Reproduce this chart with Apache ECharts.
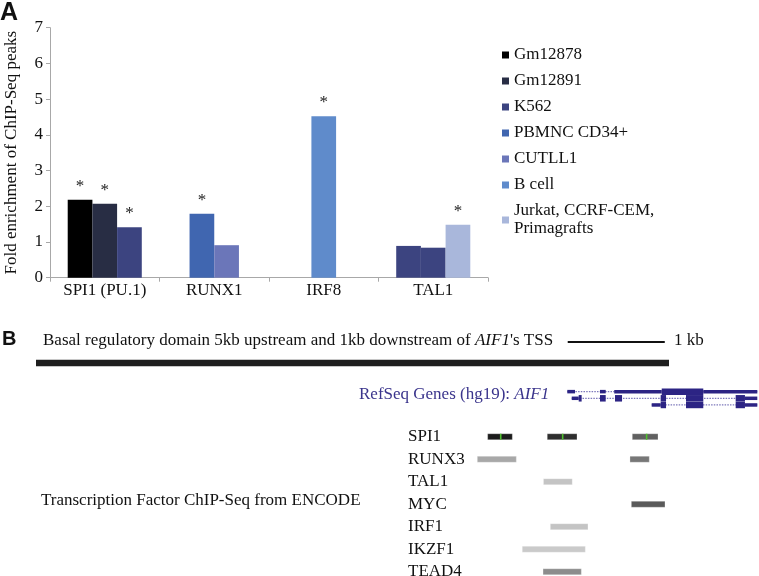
<!DOCTYPE html>
<html><head><meta charset="utf-8">
<script src="https://cdn.jsdelivr.net/npm/echarts@6/dist/echarts.min.js"></script>
<style>html,body{margin:0;padding:0;background:#fff}#c{width:759px;height:576px}</style>
</head><body><div id="c"></div>
<script>
// ---------- Panel A data ----------
const categories = ['SPI1 (PU.1)', 'RUNX1', 'IRF8', 'TAL1'];
const cellLines = ['Gm12878', 'Gm12891', 'K562', 'PBMNC CD34+', 'CUTLL1', 'B cell', 'Jurkat, CCRF-CEM,\nPrimagrafts'];
const cellColors = ['#000000', '#282d44', '#3c4480', '#4066b0', '#6b76b9', '#5f8bcb', '#a9b7db'];
const barCategory = [0, 0, 0, 1, 1, 2, 3, 3, 3];
const barCellLine = [0, 1, 2, 3, 4, 5, 2, 2, 6];
const barValue = [2.18, 2.07, 1.41, 1.79, 0.91, 4.52, 0.89, 0.84, 1.48];
const barSignificant = [1, 1, 1, 1, 0, 1, 0, 0, 1];
const yTickMax = 7;

// ---------- Panel B data (kb relative to AIF1 TSS) ----------
const domainKb = [-5, 1];
const scaleBarKb = [0.04, 0.96];
const txStart = [0.036, 0.078, 0.836];
const txEnd = [1.837, 1.837, 1.837];
const exonTx =     [0, 0, 0, 0, 0,   1, 1, 1, 1, 1, 1, 1, 1,   2, 2, 2, 2, 2];
const exonStart =  [0.036, 0.346, 0.481, 0.931, 1.325,   0.078, 0.144, 0.346, 0.488, 0.921, 1.161, 1.632, 1.720,   0.836, 0.921, 1.161, 1.632, 1.720];
const exonEnd =    [0.109, 0.400, 0.931, 1.325, 1.837,   0.144, 0.172, 0.400, 0.555, 0.972, 1.325, 1.720, 1.837,   0.921, 0.972, 1.325, 1.720, 1.837];
const exonCoding = [0, 0, 0, 1, 0,   0, 1, 1, 1, 1, 1, 1, 0,   0, 1, 1, 1, 0];
const tfNames = ['SPI1', 'RUNX3', 'TAL1', 'MYC', 'IRF1', 'IKZF1', 'TEAD4'];
const peakRow =    [0, 0, 0, 1, 1, 2, 3, 4, 5, 6];
const peakStart =  [-0.719, -0.154, 0.652, -0.817, 0.630, -0.190, 0.643, -0.125, -0.391, -0.194];
const peakEnd =    [-0.485, 0.128, 0.896, -0.447, 0.813, 0.083, 0.962, 0.232, 0.207, 0.169];
const peakScore =  [960, 870, 620, 260, 505, 120, 650, 120, 90, 400];
const peakSummit = [-0.595, -0.008, 0.788, null, null, null, null, null, null, null];

const SERIF = 'Liberation Serif';
const GENE = '#2c2484';
const xMin = -5, xMax = -5 + 723 / 105.5;

// layout of bars inside each category (computed from the arrays)
const barSlot = [], barCount = [];
categories.forEach((c, ci) => {
  let k = 0;
  barCategory.forEach((bc, i) => { if (bc === ci) { barSlot[i] = k++; } });
  barCategory.forEach((bc, i) => { if (bc === ci) barCount[i] = k; });
});

const barSeries = cellLines.map((name, li) => ({
  type: 'custom', name: name, xAxisIndex: 0, yAxisIndex: 0,
  itemStyle: { color: cellColors[li] },
  encode: { x: 0, y: 1 },
  data: barValue.map((v, i) => [barCategory[i], v, barSlot[i], barCount[i], barSignificant[i], barCellLine[i]])
               .filter(d => d[5] === li),
  renderItem: function (params, api) {
    const cat = api.value(0), v = api.value(1), k = api.value(2), n = api.value(3), sig = api.value(4);
    const base = api.coord([cat, 0]);
    const top = api.coord([cat, v]);
    const cw = api.size([1, 0])[0];
    const bw = cw * 0.2255;
    const x0 = base[0] - n * bw / 2 + k * bw;
    const children = [{
      type: 'rect', shape: { x: x0, y: top[1], width: bw, height: base[1] - top[1] },
      style: { fill: cellColors[li] }
    }];
    if (sig) {
      children.push({
        type: 'text', style: {
          text: '*', x: x0 + bw / 2, y: top[1] - 5, align: 'center', verticalAlign: 'bottom',
          fontFamily: SERIF, fontSize: 17, fill: '#222'
        }
      });
    }
    return { type: 'group', children: children };
  }
}));

const hAxis = (g) => ({ gridIndex: g, type: 'value', min: xMin, max: xMax, show: false });
const serif17 = { fontFamily: SERIF, fontSize: 17, color: '#111', lineHeight: 18 };

const option = {
  animation: false,
  backgroundColor: '#fff',
  textStyle: { fontFamily: SERIF },
  title: [
    { text: 'A', left: 0, top: 1, padding: 0, textStyle: { fontFamily: 'Liberation Sans', fontWeight: 'bold', fontSize: 25, color: '#111' } },
    { text: 'B', left: 2, top: 329, padding: 0, textStyle: { fontFamily: 'Liberation Sans', fontWeight: 'bold', fontSize: 20, color: '#111' } },
    { text: "Basal regulatory domain 5kb upstream and 1kb downstream of {i|AIF1}'s TSS", left: 43, top: 332, padding: 0,
      textStyle: { fontFamily: SERIF, fontSize: 17, fontWeight: 'normal', color: '#111',
        rich: { i: { fontFamily: SERIF, fontSize: 17, fontStyle: 'italic', color: '#111' } } } },
    { text: '1 kb', left: 674, top: 332, padding: 0, textStyle: { fontFamily: SERIF, fontSize: 17, fontWeight: 'normal', color: '#111' } },
    { text: 'RefSeq Genes (hg19): {i|AIF1}', left: 359, top: 386, padding: 0,
      textStyle: { fontFamily: SERIF, fontSize: 17, fontWeight: 'normal', color: '#3a348c',
        rich: { i: { fontFamily: SERIF, fontSize: 17, fontStyle: 'italic', color: '#3a348c' } } } },
    { text: 'Transcription Factor ChIP-Seq from ENCODE', left: 41, top: 492, padding: 0,
      textStyle: { fontFamily: SERIF, fontSize: 17, fontWeight: 'normal', color: '#111' } }
  ],
  legend: {
    orient: 'vertical', left: 502, top: 46, padding: 0,
    itemWidth: 7, itemHeight: 7, itemGap: 8, icon: 'rect',
    data: cellLines,
    textStyle: serif17
  },
  grid: [
    { left: 50, top: 27.7, width: 438, height: 250, outerBoundsMode: 'none', containLabel: false },
    { left: 36, top: 331.5, width: 723, height: 42, outerBoundsMode: 'none' },
    { left: 36, top: 388.3, width: 723, height: 20, outerBoundsMode: 'none' },
    { left: 36, top: 425.5, width: 723, height: 157.5, outerBoundsMode: 'none' }
  ],
  xAxis: [
    { gridIndex: 0, type: 'category', data: categories,
      axisLine: { lineStyle: { color: '#a8a8a8', width: 1 } },
      axisTick: { show: true, interval: 0, length: 4, lineStyle: { color: '#a8a8a8' } },
      axisLabel: { interval: 0, margin: 4, fontFamily: SERIF, fontSize: 17, color: '#111' } },
    hAxis(1), hAxis(2), hAxis(3)
  ],
  yAxis: [
    { gridIndex: 0, type: 'value', min: 0, max: yTickMax, interval: 1,
      name: 'Fold enrichment of ChIP-Seq peaks', nameLocation: 'middle', nameGap: 30,
      nameTextStyle: { fontFamily: SERIF, fontSize: 17, color: '#111' },
      axisLine: { show: true, lineStyle: { color: '#a8a8a8', width: 1 } },
      axisTick: { show: true, length: 4, lineStyle: { color: '#a8a8a8' } },
      splitLine: { show: false },
      axisLabel: { margin: 7, fontFamily: SERIF, fontSize: 17, color: '#111' } },
    { gridIndex: 1, type: 'category', data: ['scale', 'domain'], inverse: true, show: false },
    { gridIndex: 2, type: 'category', data: ['tx1', 'tx2', 'tx3'], inverse: true, show: false },
    { gridIndex: 3, type: 'category', data: tfNames, inverse: true,
      axisLine: { show: false }, axisTick: { show: false }, splitLine: { show: false },
      axisLabel: { interval: 0, margin: -372, align: 'left', fontFamily: SERIF, fontSize: 17, color: '#111' } }
  ],
  series: barSeries.concat([
    { // domain bar and scale bar
      type: 'custom', xAxisIndex: 1, yAxisIndex: 1, silent: true,
      data: [[scaleBarKb[0], scaleBarKb[1], 0], [domainKb[0], domainKb[1], 1]],
      renderItem: function (params, api) {
        const row = api.value(2);
        const a = api.coord([api.value(0), row]), b = api.coord([api.value(1), row]);
        const h = row === 0 ? 2 : 6.5;
        return { type: 'rect', shape: { x: a[0], y: a[1] - h / 2, width: b[0] - a[0], height: h },
          style: { fill: row === 0 ? '#111' : '#1e1e1e' } };
      }
    },
    { // introns
      type: 'custom', xAxisIndex: 2, yAxisIndex: 2, silent: true,
      data: txStart.map((s, i) => [s, txEnd[i], i]),
      renderItem: function (params, api) {
        const a = api.coord([api.value(0), api.value(2)]), b = api.coord([api.value(1), api.value(2)]);
        return { type: 'line', shape: { x1: a[0], y1: a[1], x2: b[0], y2: b[1] },
          style: { stroke: '#7d78bb', lineWidth: 1.2, lineDash: [1.5, 1.2] } };
      }
    },
    { // exons
      type: 'custom', xAxisIndex: 2, yAxisIndex: 2, silent: true,
      data: exonStart.map((s, i) => [s, exonEnd[i], exonTx[i], exonCoding[i]]),
      renderItem: function (params, api) {
        const a = api.coord([api.value(0), api.value(2)]), b = api.coord([api.value(1), api.value(2)]);
        const h = api.value(3) ? 6.5 : 3.5;
        return { type: 'rect', shape: { x: a[0], y: a[1] - h / 2, width: b[0] - a[0], height: h },
          style: { fill: GENE } };
      }
    },
    { // TF ChIP-seq peaks
      type: 'custom', xAxisIndex: 3, yAxisIndex: 3, silent: true,
      data: peakStart.map((s, i) => [s, peakEnd[i], peakRow[i], peakScore[i], peakSummit[i] == null ? NaN : peakSummit[i]]),
      renderItem: function (params, api) {
        const row = api.value(2);
        const a = api.coord([api.value(0), row]), b = api.coord([api.value(1), row]);
        const g = Math.round(220 - api.value(3) * 0.2);
        const h = 6;
        const children = [{ type: 'rect', shape: { x: a[0], y: a[1] - h / 2, width: b[0] - a[0], height: h },
          style: { fill: 'rgb(' + g + ',' + g + ',' + g + ')', stroke: 'rgba(255,255,255,0.35)', lineWidth: 0.8 } }];
        const sm = api.value(4);
        if (!isNaN(sm)) {
          const c = api.coord([sm, row]);
          children.push({ type: 'rect', shape: { x: c[0] - 0.8, y: c[1] - h / 2, width: 1.6, height: h },
            style: { fill: '#4fbf2f' } });
        }
        return { type: 'group', children: children };
      }
    }
  ])
};

const chart = echarts.init(document.getElementById('c'), null, { renderer: 'canvas' });
chart.setOption(option);
</script>
</body></html>
